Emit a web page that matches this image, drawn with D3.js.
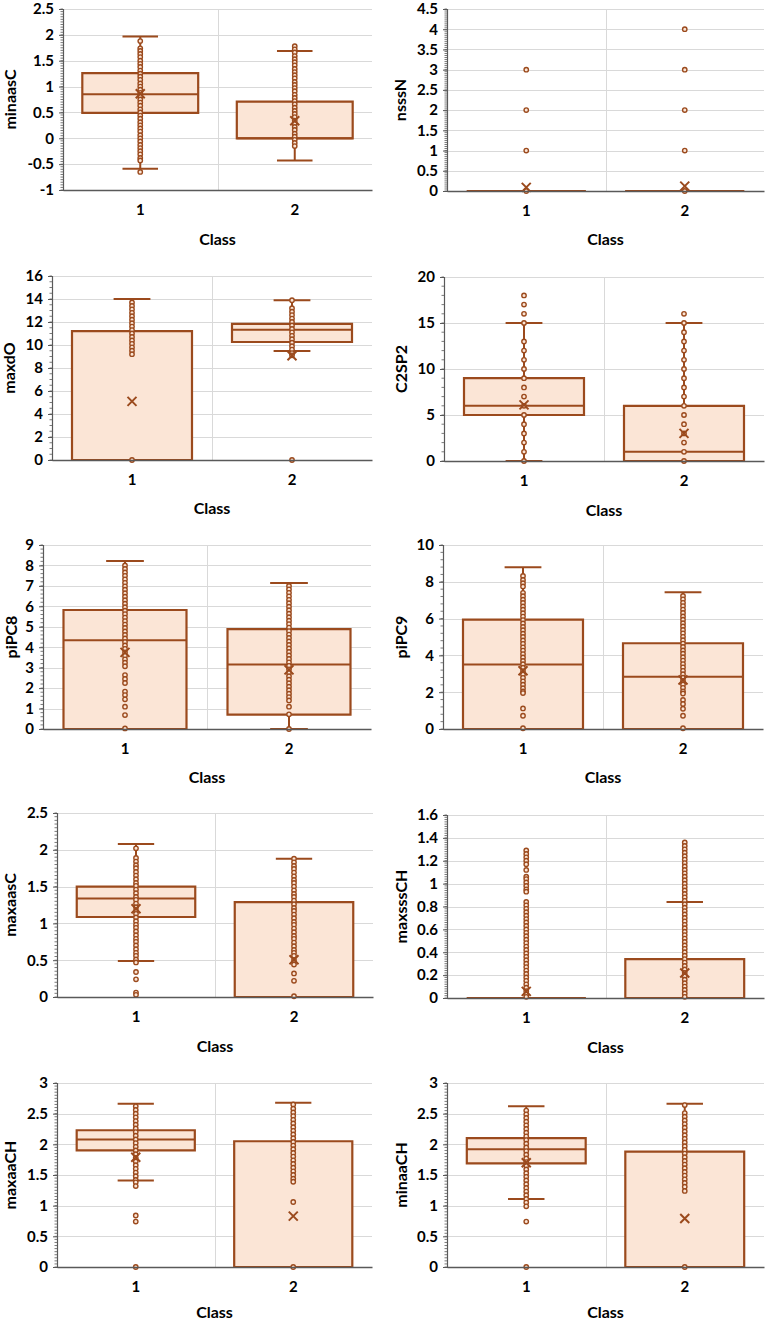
<!DOCTYPE html>
<html><head><meta charset="utf-8">
<script src="https://cdn.jsdelivr.net/npm/d3@7"></script>
<style>
body{margin:0;background:#fff}
svg{display:block}
text{font-family:Lato,"Open Sans",sans-serif;font-weight:700;fill:#000}
</style>
</head><body>
<svg id="chart" width="768" height="1323"></svg>
<script>
// ---------------- DATA ----------------
const categories = ["1", "2"];
const variableNames = ["minaasC","nsssN","maxdO","C2SP2","piPC8","piPC9","maxaasC","maxsssCH","maxaaCH","minaaCH"];
const xTitle = "Class";

const yMins  = [-1, 0, 0, 0, 0, 0, 0, 0, 0, 0];
const yMaxs  = [2.5, 4.5, 16, 20, 9, 10, 2.5, 1.6, 3, 3];
const ySteps = [0.5, 0.5, 2, 5, 1, 2, 0.5, 0.2, 0.5, 0.5];
const yMinorDivs = [10, 10, 4, 5, 5, 5, 10, 10, 10, 10];

// box statistics per panel: [class1, class2], each [low whisker, Q1, median, Q3, high whisker, mean]
const minaasC_stats  = [[-0.59, 0.49, 0.85, 1.26, 1.97, 0.86], [-0.43, 0, 0, 0.71, 1.69, 0.34]];
const nsssN_stats    = [[0, 0, 0, 0, 0, 0.09], [0, 0, 0, 0, 0, 0.12]];
const maxdO_stats    = [[0, 0, 0, 11.2, 14.0, 5.1], [9.48, 10.26, 11.33, 11.83, 13.9, 9.07]];
const C2SP2_stats    = [[0, 5, 6, 9, 15, 6.1], [0, 0, 1, 6, 15, 3.0]];
const piPC8_stats    = [[0, 0, 4.34, 5.82, 8.22, 3.75], [0, 0.7, 3.16, 4.89, 7.14, 2.89]];
const piPC9_stats    = [[0, 0, 3.51, 5.94, 8.79, 3.17], [0, 0, 2.84, 4.66, 7.43, 2.66]];
const maxaasC_stats  = [[0.49, 1.087, 1.34, 1.50, 2.08, 1.20], [0, 0, 0, 1.29, 1.88, 0.507]];
const maxsssCH_stats = [[0, 0, 0, 0, 0, 0.058], [0, 0, 0, 0.34, 0.84, 0.218]];
const maxaaCH_stats  = [[1.41, 1.90, 2.08, 2.23, 2.66, 1.79], [0, 0, 0, 2.05, 2.68, 0.83]];
const minaaCH_stats  = [[1.11, 1.69, 1.92, 2.10, 2.62, 1.70], [0, 0, 0, 1.88, 2.66, 0.79]];

// plotted points per panel and class
const minaasC_pts1 = [1.88,1.74,1.69,1.63,1.57,1.50,1.44,1.38,1.31,1.25,1.19,1.13,1.06,1.00,0.94,0.88,0.81,0.75,0.69,0.63,0.56,0.50,0.44,0.38,0.31,0.25,0.19,0.13,0.06,0.00,-0.06,-0.13,-0.19,-0.25,-0.31,-0.38,-0.43,-0.65];
const minaasC_pts2 = [1.78,1.72,1.66,1.59,1.53,1.47,1.41,1.34,1.28,1.22,1.16,1.09,1.03,0.97,0.91,0.84,0.78,0.72,0.66,0.59,0.53,0.47,0.41,0.34,0.28,0.22,0.16,0.09,0.03,-0.03,-0.09,-0.15];
const nsssN_pts1 = [0,1,2,3];
const nsssN_pts2 = [0,1,2,3,4];
const maxdO_pts1 = [13.7,13.4,13.1,12.8,12.5,12.2,11.9,11.6,11.3,11.0,10.7,10.4,10.1,9.8,9.5,9.2,0];
const maxdO_pts2 = [13.9,13.2,12.9,12.6,12.3,12.0,11.7,11.4,11.1,10.8,10.5,10.2,9.9,9.6,9.3,9.1,0];
const C2SP2_pts1 = [0,1,2,3,4,5,6,7,8,9,10,11,12,13,15,16,17,18];
const C2SP2_pts2 = [0,1,2,3,4,5,6,7,8,9,10,11,12,13,14,15,16];
const piPC8_pts1 = [8.0,7.83,7.66,7.49,7.32,7.15,6.98,6.81,6.64,6.47,6.3,6.13,5.96,5.79,5.62,5.45,5.28,5.11,4.94,4.77,4.6,4.43,4.26,4.09,3.92,3.75,3.58,3.41,3.24,3.07,2.64,2.45,2.25,1.83,1.66,1.45,1.09,0.68,0.03];
const piPC8_pts2 = [7.0,6.83,6.66,6.49,6.32,6.15,5.98,5.81,5.64,5.47,5.3,5.13,4.96,4.79,4.62,4.45,4.28,4.11,3.94,3.77,3.6,3.43,3.26,3.09,2.92,2.75,2.58,2.41,2.24,2.07,1.9,1.73,1.56,1.4,1.09,0.72,0];
const piPC9_pts1 = [8.32,8.1,7.92,7.75,7.4,7.22,7.03,6.85,6.66,6.48,6.29,6.11,5.92,5.74,5.55,5.37,5.18,5.0,4.81,4.63,4.44,4.26,4.07,3.89,3.7,3.52,3.33,3.15,2.96,2.78,2.59,2.41,2.22,2.04,1.95,1.12,0.72,0.04];
const piPC9_pts2 = [7.23,7.05,6.86,6.68,6.49,6.31,6.12,5.94,5.75,5.57,5.38,5.2,5.01,4.83,4.64,4.46,4.27,4.09,3.9,3.72,3.53,3.35,3.16,2.98,2.79,2.61,2.42,2.24,2.05,1.93,1.58,1.36,1.1,0.72,0.04];
const maxaasC_pts1 = [2.02,1.89,1.84,1.79,1.75,1.70,1.65,1.60,1.55,1.51,1.46,1.41,1.36,1.32,1.27,1.22,1.17,1.13,1.08,1.03,0.98,0.94,0.89,0.84,0.79,0.75,0.70,0.65,0.60,0.56,0.51,0.47,0.34,0.24,0.06,0.03];
const maxaasC_pts2 = [1.88,1.83,1.78,1.74,1.69,1.64,1.59,1.55,1.50,1.45,1.40,1.36,1.31,1.26,1.21,1.17,1.12,1.07,1.02,0.98,0.93,0.88,0.83,0.79,0.74,0.69,0.64,0.60,0.56,0.50,0.44,0.32,0.22,0.01];
const maxsssCH_pts1 = [1.29,1.26,1.23,1.20,1.17,1.12,1.06,1.04,1.01,0.98,0.95,0.93,0.84,0.81,0.78,0.75,0.72,0.69,0.66,0.63,0.60,0.57,0.54,0.51,0.48,0.45,0.42,0.39,0.36,0.33,0.30,0.27,0.24,0.21,0.18,0.15,0.12,0.09,0.06,0.03,0.01];
const maxsssCH_pts2 = [1.36,1.33,1.30,1.27,1.24,1.21,1.18,1.15,1.12,1.09,1.06,1.03,1.00,0.97,0.94,0.91,0.88,0.85,0.82,0.79,0.76,0.73,0.70,0.67,0.64,0.61,0.58,0.55,0.52,0.49,0.46,0.43,0.40,0.37,0.34,0.31,0.28,0.25,0.22,0.19,0.16,0.13,0.10,0.07,0.04,0.01];
const maxaaCH_pts1 = [2.62,2.56,2.50,2.44,2.38,2.32,2.26,2.20,2.14,2.08,2.02,1.96,1.90,1.84,1.78,1.72,1.66,1.60,1.54,1.48,1.42,1.38,1.32,0.84,0.74,0];
const maxaaCH_pts2 = [2.65,2.58,2.52,2.46,2.40,2.34,2.28,2.22,2.16,2.10,2.04,1.98,1.92,1.86,1.80,1.74,1.68,1.62,1.56,1.50,1.44,1.39,1.06,0];
const minaaCH_pts1 = [2.55,2.49,2.43,2.37,2.31,2.25,2.19,2.13,2.07,2.01,1.95,1.89,1.83,1.77,1.71,1.65,1.59,1.53,1.47,1.41,1.35,1.29,1.23,1.17,1.11,1.05,0.99,0.74,0];
const minaaCH_pts2 = [2.64,2.51,2.45,2.39,2.33,2.27,2.21,2.15,2.09,2.03,1.97,1.91,1.85,1.79,1.73,1.67,1.61,1.55,1.49,1.43,1.37,1.31,1.24,0];

const allStats = [minaasC_stats, nsssN_stats, maxdO_stats, C2SP2_stats, piPC8_stats, piPC9_stats, maxaasC_stats, maxsssCH_stats, maxaaCH_stats, minaaCH_stats];
const allPoints = [
  [minaasC_pts1, minaasC_pts2], [nsssN_pts1, nsssN_pts2], [maxdO_pts1, maxdO_pts2], [C2SP2_pts1, C2SP2_pts2],
  [piPC8_pts1, piPC8_pts2], [piPC9_pts1, piPC9_pts2], [maxaasC_pts1, maxaasC_pts2], [maxsssCH_pts1, maxsssCH_pts2],
  [maxaaCH_pts1, maxaaCH_pts2], [minaaCH_pts1, minaaCH_pts2]
];

// ---------------- LAYOUT (pixels) ----------------
const layout = [
  {L:63,  R:372, T:9,    B:190,  tx:10,  cy:239},
  {L:447, R:764, T:9,    B:191,  tx:400, cy:239},
  {L:52,  R:372, T:276,  B:460,  tx:9,   cy:508},
  {L:444, R:764, T:277,  B:461,  tx:401, cy:510},
  {L:43,  R:371, T:545,  B:729,  tx:11,  cy:777},
  {L:443, R:763, T:545,  B:729,  tx:401, cy:777},
  {L:57,  R:373, T:813,  B:997,  tx:10,  cy:1046},
  {L:447, R:764, T:815,  B:998,  tx:401, cy:1047},
  {L:57,  R:372, T:1083, B:1267, tx:10,  cy:1312},
  {L:447, R:764, T:1083, B:1267, tx:401, cy:1312}
];

const COL = {stroke:"#9b4a1d", fill:"#fbe5d6", grid:"#d9d9d9", axis:"#595959"};

const svg = d3.select("#chart");
const fmt = v => String(+v.toFixed(3));

variableNames.forEach((name, i) => {
  const lay = layout[i];
  const g = svg.append("g");
  const x = d3.scaleBand().domain(categories).range([lay.L, lay.R]).paddingInner(0).paddingOuter(0);
  const y = d3.scaleLinear().domain([yMins[i], yMaxs[i]]).range([lay.B, lay.T]);
  const step = ySteps[i];
  const nMaj = Math.round((yMaxs[i] - yMins[i]) / step);
  const majors = d3.range(nMaj + 1).map(k => +(yMins[i] + k * step).toFixed(6));
  const minorStep = step / yMinorDivs[i];
  const nMin = Math.round((yMaxs[i] - yMins[i]) / minorStep);
  const minors = d3.range(nMin + 1).map(k => yMins[i] + k * minorStep);

  // gridlines
  g.append("g").selectAll("line").data(majors.filter(v => v !== yMins[i])).join("line")
    .attr("x1", lay.L).attr("x2", lay.R)
    .attr("y1", d => Math.round(y(d)) + 0.5).attr("y2", d => Math.round(y(d)) + 0.5)
    .attr("stroke", COL.grid).attr("stroke-width", 1);
  g.append("line")
    .attr("x1", Math.round(x("2")) + 0.5).attr("x2", Math.round(x("2")) + 0.5)
    .attr("y1", lay.T).attr("y2", lay.B)
    .attr("stroke", COL.grid).attr("stroke-width", 1);

  // y axis
  const yAxis = d3.axisLeft(y).tickValues(majors).tickSize(4).tickPadding(5).tickFormat(fmt);
  const ya = g.append("g").attr("transform", `translate(${lay.L},0)`).call(yAxis);
  ya.select(".domain").attr("stroke", COL.axis).attr("stroke-width", 1.2);
  ya.selectAll(".tick line").attr("stroke", COL.axis);
  ya.selectAll(".tick text").style("font-size", "15px").attr("fill", "#000");
  g.append("g").selectAll("line").data(minors).join("line")
    .attr("x1", lay.L - 2.5).attr("x2", lay.L)
    .attr("y1", d => y(d)).attr("y2", d => y(d))
    .attr("stroke", COL.axis).attr("stroke-width", 0.8);

  // boxes
  const bw = x.bandwidth() * 0.75;
  const cw = x.bandwidth() * 0.23;
  categories.forEach((c, ci) => {
    const [lo, q1, med, q3, hi, mean] = allStats[i][ci];
    const cx = x(c) + x.bandwidth() / 2;
    const bg = g.append("g");
    bg.append("line").attr("x1", cx).attr("x2", cx).attr("y1", y(q3)).attr("y2", y(hi))
      .attr("stroke", COL.stroke).attr("stroke-width", 2);
    bg.append("line").attr("x1", cx).attr("x2", cx).attr("y1", y(q1)).attr("y2", y(lo))
      .attr("stroke", COL.stroke).attr("stroke-width", 2);
    [lo, hi].forEach(v => bg.append("line").attr("x1", cx - cw / 2).attr("x2", cx + cw / 2)
      .attr("y1", y(v)).attr("y2", y(v)).attr("stroke", COL.stroke).attr("stroke-width", 2));
    bg.append("path")
      .attr("d", `M${cx - bw / 2},${y(q3)}H${cx + bw / 2}V${y(q1)}H${cx - bw / 2}Z`)
      .attr("fill", COL.fill).attr("stroke", COL.stroke).attr("stroke-width", 2.2);
    bg.append("line").attr("x1", cx - bw / 2).attr("x2", cx + bw / 2).attr("y1", y(med)).attr("y2", y(med))
      .attr("stroke", COL.stroke).attr("stroke-width", 2);
    bg.append("g").selectAll("circle").data(allPoints[i][ci]).join("circle")
      .attr("cx", cx).attr("cy", d => y(d)).attr("r", 2.2)
      .attr("fill", COL.fill).attr("stroke", COL.stroke).attr("stroke-width", 1.4);
    const my = y(mean), s = 4.5;
    bg.append("path").attr("d", `M${cx - s},${my - s}L${cx + s},${my + s}M${cx - s},${my + s}L${cx + s},${my - s}`)
      .attr("stroke", COL.stroke).attr("stroke-width", 2).attr("fill", "none");
  });

  // x axis
  const xAxis = d3.axisBottom(x).tickSize(0).tickPadding(14);
  const xa = g.append("g").attr("transform", `translate(0,${lay.B})`).call(xAxis);
  xa.select(".domain").attr("stroke", COL.axis).attr("stroke-width", 1.5);
  xa.selectAll(".tick text").style("font-size", "15px").attr("fill", "#000");

  // titles
  g.append("text").attr("x", (lay.L + lay.R) / 2).attr("y", lay.cy).attr("dy", "0.35em")
    .attr("text-anchor", "middle").style("font-size", "16px").text(xTitle);
  g.append("text").attr("transform", `translate(${lay.tx},${(lay.T + lay.B) / 2}) rotate(-90)`)
    .attr("dy", "0.35em").attr("text-anchor", "middle").style("font-size", "16px").text(name);
});
</script>
</body></html>
